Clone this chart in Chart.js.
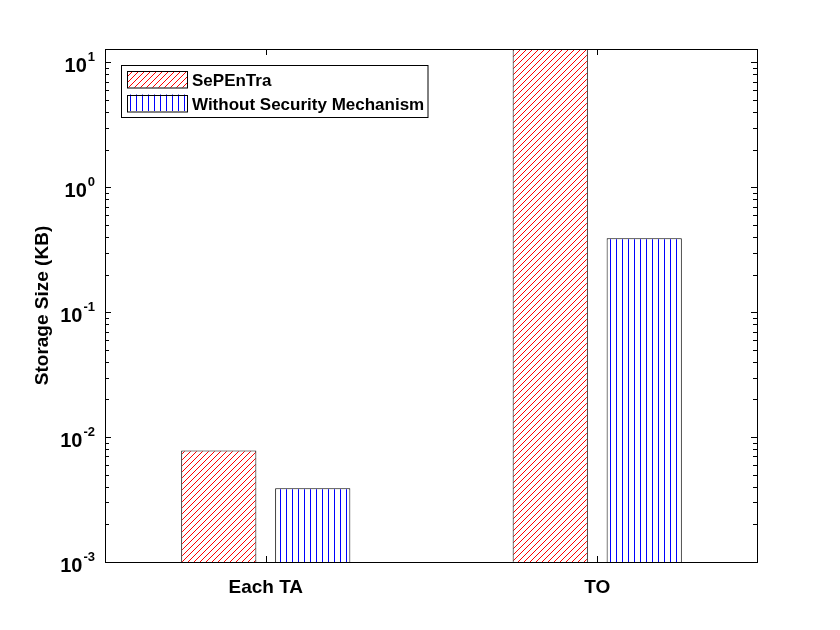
<!DOCTYPE html>
<html>
<head>
<meta charset="utf-8">
<title>Storage size</title>
<script src="https://cdn.jsdelivr.net/npm/chart.js@4.4.1/dist/chart.umd.min.js"></script>
<style>
  body { margin: 0; background: #fff; }
  #wrap { width: 840px; height: 630px; }
</style>
</head>
<body>
<div id="wrap"><canvas id="chart" width="840" height="630"></canvas></div>
<script>

    const categories = ['Each TA', 'TO']
    const seriesNames = ['SePEnTra', 'Without Security Mechanism']
    const sepentra = [0.0078, 15]          // TO bar runs past the top of the axis
    const withoutSecurity = [0.0039, 0.39]

    const yMin = 0.001
    const yMax = 12.8
    const yTickExps = [-3, -2, -1, 0, 1]
    const minorSteps = [2, 3, 4, 5, 6, 7, 8, 9]
    const xMin = 0.515
    const xMax = 2.482

    const FONT = '"Liberation Sans", Arial, sans-serif'

    // small tiled canvas used as hatch fill, drawn pixel by pixel so the colour stays pure
    function hatch(color, kind) {
        const c = document.createElement('canvas')
        c.width = 6
        c.height = 6
        const g = c.getContext('2d')
        g.fillStyle = '#fff'
        g.fillRect(0, 0, 6, 6)
        g.fillStyle = color
        for (let i = 0; i < 6; i++) {
            if (kind === 'diag') g.fillRect(i, 5 - i, 1, 1)
            else g.fillRect(4, i, 1, 1)
        }
        return g.createPattern(c, 'repeat')
    }

    const redHatch = hatch('#ff0000', 'diag')
    const blueHatch = hatch('#0000ff', 'vert')

    // matlab style box, inner ticks and 10^n labels
    const frame = {
        id: 'frame',
        afterDatasetsDraw(chart) {
            const {ctx, chartArea: a, scales: {x, y}} = chart
            ctx.save()
            ctx.strokeStyle = '#000'
            ctx.lineWidth = 1
            ctx.strokeRect(a.left + 0.5, a.top + 0.5, a.right - a.left, a.bottom - a.top)

            ctx.beginPath()
            yTickExps.forEach(e => {
                const base = Math.pow(10, e)
                const py = Math.round(y.getPixelForValue(base)) + 0.5
                ctx.moveTo(a.left, py); ctx.lineTo(a.left + 6, py)
                ctx.moveTo(a.right, py); ctx.lineTo(a.right - 6, py)
                minorSteps.forEach(m => {
                    const v = m * base
                    if (v > yMax) return
                    const pm = Math.round(y.getPixelForValue(v)) + 0.5
                    ctx.moveTo(a.left, pm); ctx.lineTo(a.left + 4, pm)
                    ctx.moveTo(a.right, pm); ctx.lineTo(a.right - 4, pm)
                })
            })
            categories.forEach((c, i) => {
                const px = Math.round(x.getPixelForValue(i + 1)) + 0.5
                ctx.moveTo(px, a.bottom); ctx.lineTo(px, a.bottom - 6)
                ctx.moveTo(px, a.top); ctx.lineTo(px, a.top + 6)
            })
            ctx.stroke()

            ctx.fillStyle = '#000'
            ctx.textBaseline = 'middle'
            yTickExps.forEach(e => {
                const py = y.getPixelForValue(Math.pow(10, e))
                const right = a.left - 10
                ctx.font = 'bold 13px ' + FONT
                ctx.textAlign = 'right'
                ctx.fillText(String(e), right, py - 5)
                const ew = ctx.measureText(String(e)).width
                ctx.font = 'bold 20px ' + FONT
                ctx.fillText('10', right - ew - 1, py + 4)
            })
            ctx.restore()
        },
        afterDraw(chart) {
            const ctx = chart.ctx
            const ds = chart.data.datasets
            ctx.save()
            ctx.fillStyle = '#fff'
            ctx.fillRect(121.5, 65.5, 306.5, 52)
            ctx.strokeStyle = '#000'
            ctx.lineWidth = 1
            ctx.strokeRect(121.5, 65.5, 306.5, 52)
            ds.forEach((d, i) => {
                const top = 71 + i * 23.5
                ctx.fillStyle = d.backgroundColor
                ctx.fillRect(127, top, 60, 16.5)
                ctx.strokeRect(127.5, Math.round(top) + 0.5, 60, 16.5)
                ctx.fillStyle = '#000'
                ctx.font = 'bold 17px ' + FONT
                ctx.textAlign = 'left'
                ctx.textBaseline = 'middle'
                ctx.fillText(d.label, 192, top + 10.5)
            })
            ctx.restore()
        }
    }

    const toPoints = vals => categories.map((c, i) => ({x: i + 1, y: vals[i]}))

    new Chart(document.getElementById('chart'), {
        type: 'bar',
        data: {
            datasets: [
                {
                    label: seriesNames[0],
                    data: toPoints(sepentra),
                    backgroundColor: redHatch,
                    borderColor: '#000',
                    borderWidth: 1,
                    categoryPercentage: 0.567,
                    barPercentage: 0.8
                },
                {
                    label: seriesNames[1],
                    data: toPoints(withoutSecurity),
                    backgroundColor: blueHatch,
                    borderColor: '#000',
                    borderWidth: 1,
                    categoryPercentage: 0.567,
                    barPercentage: 0.8
                }
            ]
        },
        options: {
            responsive: false,
            animation: false,
            layout: {padding: {left: 0, right: 83, top: 49, bottom: 0}},
            plugins: {legend: {display: false}, tooltip: {enabled: false}},
            scales: {
                x: {
                    type: 'linear',
                    offset: false,
                    min: xMin,
                    max: xMax,
                    grid: {display: false, drawTicks: false, offset: false},
                    border: {display: false},
                    ticks: {
                        stepSize: 1,
                        includeBounds: false,
                        color: '#000',
                        font: {family: FONT, size: 19, weight: 'bold'},
                        padding: 14,
                        callback: v => categories[v - 1] ?? ''
                    },
                    afterFit(s) { s.height = 68 }
                },
                y: {
                    type: 'logarithmic',
                    min: yMin,
                    max: yMax,
                    grid: {display: false, drawTicks: false},
                    border: {display: false},
                    ticks: {display: false},
                    title: {
                        display: true,
                        text: 'Storage Size (KB)',
                        color: '#000',
                        font: {family: FONT, size: 19, weight: 'bold'},
                        padding: {top: 31, bottom: 0}
                    },
                    afterFit(s) { s.width = 105 }
                }
            }
        },
        plugins: [frame]
    })

</script>
</body>
</html>
